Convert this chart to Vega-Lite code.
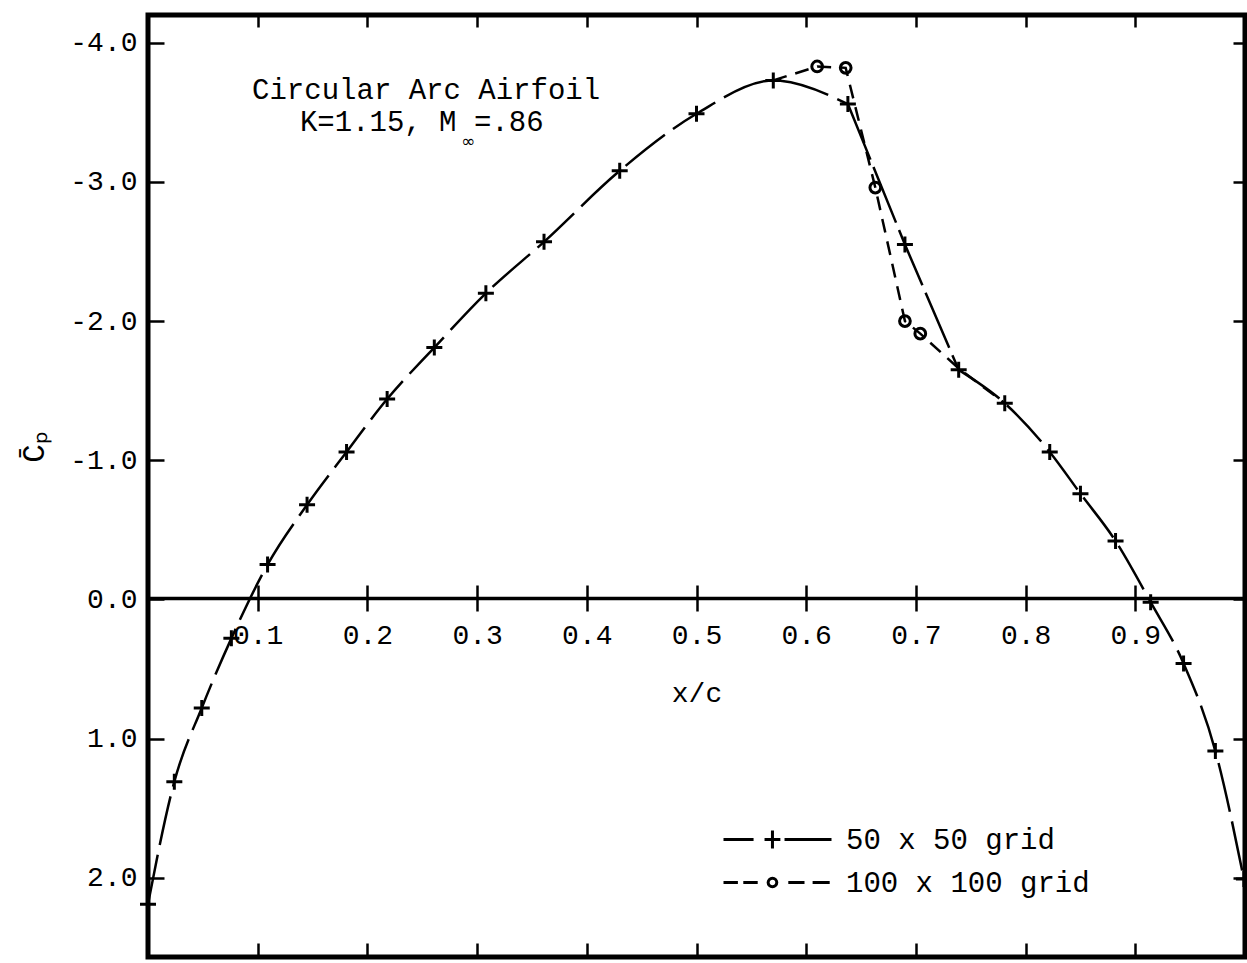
{
  "$schema": "https://vega.github.io/schema/vega-lite/v6.json",
  "width": 1097,
  "height": 942,
  "autosize": {"type": "none"},
  "padding": {"left": 148, "top": 15, "right": 2, "bottom": 6},
  "background": "white",
  "config": {
    "view": {"stroke": "black", "strokeWidth": 5},
    "font": "Liberation Mono",
    "axis": {
      "labelFont": "Liberation Mono",
      "labelFontSize": 28,
      "labelColor": "black",
      "titleFont": "Liberation Mono",
      "titleFontSize": 28,
      "titleFontWeight": "normal",
      "titleColor": "black",
      "tickColor": "black",
      "domainColor": "black",
      "grid": false,
      "labelOverlap": false,
      "labelFlush": false
    }
  },
  "datasets": {
    "cp": [
      {"grid": "50 x 50 grid", "x": 0.000, "cp": 2.19},
      {"grid": "50 x 50 grid", "x": 0.024, "cp": 1.31},
      {"grid": "50 x 50 grid", "x": 0.049, "cp": 0.78},
      {"grid": "50 x 50 grid", "x": 0.076, "cp": 0.28},
      {"grid": "50 x 50 grid", "x": 0.109, "cp": -0.25},
      {"grid": "50 x 50 grid", "x": 0.145, "cp": -0.68},
      {"grid": "50 x 50 grid", "x": 0.181, "cp": -1.06},
      {"grid": "50 x 50 grid", "x": 0.218, "cp": -1.44},
      {"grid": "50 x 50 grid", "x": 0.261, "cp": -1.81},
      {"grid": "50 x 50 grid", "x": 0.308, "cp": -2.20},
      {"grid": "50 x 50 grid", "x": 0.361, "cp": -2.57},
      {"grid": "50 x 50 grid", "x": 0.430, "cp": -3.08},
      {"grid": "50 x 50 grid", "x": 0.500, "cp": -3.49},
      {"grid": "50 x 50 grid", "x": 0.570, "cp": -3.73},
      {"grid": "50 x 50 grid", "x": 0.638, "cp": -3.56},
      {"grid": "50 x 50 grid", "x": 0.690, "cp": -2.55},
      {"grid": "50 x 50 grid", "x": 0.739, "cp": -1.65},
      {"grid": "50 x 50 grid", "x": 0.781, "cp": -1.41},
      {"grid": "50 x 50 grid", "x": 0.822, "cp": -1.06},
      {"grid": "50 x 50 grid", "x": 0.850, "cp": -0.76},
      {"grid": "50 x 50 grid", "x": 0.882, "cp": -0.42},
      {"grid": "50 x 50 grid", "x": 0.914, "cp": 0.02},
      {"grid": "50 x 50 grid", "x": 0.944, "cp": 0.46},
      {"grid": "50 x 50 grid", "x": 0.973, "cp": 1.09},
      {"grid": "50 x 50 grid", "x": 0.999, "cp": 2.01},
      {"grid": "100 x 100 grid", "x": 0.570, "cp": -3.73},
      {"grid": "100 x 100 grid", "x": 0.610, "cp": -3.83},
      {"grid": "100 x 100 grid", "x": 0.636, "cp": -3.82},
      {"grid": "100 x 100 grid", "x": 0.663, "cp": -2.96},
      {"grid": "100 x 100 grid", "x": 0.690, "cp": -2.00},
      {"grid": "100 x 100 grid", "x": 0.704, "cp": -1.91},
      {"grid": "100 x 100 grid", "x": 0.739, "cp": -1.66},
      {"grid": "100 x 100 grid", "x": 0.781, "cp": -1.41}
    ],
    "notes": [
      {"x": 0.2535, "cp": -3.66, "label": "Circular Arc Airfoil"},
      {"x": 0.2495, "cp": -3.43, "label": "K=1.15, M =.86"}
    ],
    "sub": [
      {"x": 0.292, "cp": -3.29, "label": "∞"}
    ]
  },
  "resolve": {"axis": {"x": "independent", "y": "independent"}},
  "layer": [
    {
      "data": {"name": "cp"},
      "transform": [{"filter": "datum.grid === '50 x 50 grid' && datum.x <= 0.64"}],
      "mark": {"type": "line", "interpolate": "monotone", "color": "black", "strokeWidth": 2.5, "strokeDash": [50, 10]},
      "encoding": {
        "x": {"field": "x", "type": "quantitative",
          "scale": {"domain": [0, 1], "nice": false, "zero": false},
          "axis": {"orient": "bottom", "offset": -359, "values": [0.1,0.2,0.3,0.4,0.5,0.6,0.7,0.8,0.9],
            "format": ".1f", "tickSize": 13, "tickWidth": 2.5, "domainWidth": 3.5, "labelPadding": 10,
            "title": "x/c", "titlePadding": 30}},
        "y": {"field": "cp", "type": "quantitative",
          "scale": {"domain": [-4.2, 2.57], "reverse": true, "nice": false, "zero": false},
          "axis": {"orient": "left", "values": [-4,-3,-2,-1,0,1,2], "tickSize": 0, "domain": false, "labelPadding": 11,
            "labelExpr": "datum.value < 0 ? '-' + format(-datum.value, '.1f') : format(datum.value, '.1f')",
            "title": "C\u0304\u209a", "titleFontSize": 31, "titleAngle": 270, "titleX": -114, "titleY": 432, "titleAlign": "center", "titleBaseline": "middle"}}
      }
    },
    {
      "data": {"name": "cp"},
      "transform": [{"filter": "datum.grid === '50 x 50 grid' && datum.x >= 0.63 && datum.x <= 0.75"}],
      "mark": {"type": "line", "interpolate": "linear", "color": "black", "strokeWidth": 2.5, "strokeDash": [60, 8]},
      "encoding": {
        "x": {"field": "x", "type": "quantitative", "axis": null},
        "y": {"field": "cp", "type": "quantitative", "axis": null}
      }
    },
    {
      "data": {"name": "cp"},
      "transform": [{"filter": "datum.grid === '50 x 50 grid' && datum.x >= 0.73"}],
      "mark": {"type": "line", "interpolate": "monotone", "color": "black", "strokeWidth": 2.5, "strokeDash": [50, 10]},
      "encoding": {
        "x": {"field": "x", "type": "quantitative", "axis": null},
        "y": {"field": "cp", "type": "quantitative", "axis": null}
      }
    },
    {
      "data": {"name": "cp"},
      "transform": [{"filter": "datum.grid === '100 x 100 grid'"}],
      "mark": {"type": "line", "interpolate": "linear", "color": "black", "strokeWidth": 2.5, "strokeDash": [14, 9]},
      "encoding": {
        "x": {"field": "x", "type": "quantitative",
          "axis": {"orient": "top", "offset": -583, "values": [0.1,0.2,0.3,0.4,0.5,0.6,0.7,0.8,0.9],
            "tickSize": 13, "tickWidth": 2.5, "labels": false, "domain": false, "title": null}},
        "y": {"field": "cp", "type": "quantitative",
          "axis": {"orient": "right", "offset": -1097, "values": [-4,-3,-2,-1,0,1,2],
            "tickSize": 16, "tickWidth": 2.5, "labels": false, "domain": false, "title": null}}
      }
    },
    {
      "data": {"name": "cp"},
      "transform": [{"filter": "datum.grid === '50 x 50 grid'"}],
      "mark": {"type": "point", "shape": "M-1,0H1M0,-1V1", "size": 256, "filled": false, "color": "black", "strokeWidth": 3, "opacity": 1},
      "encoding": {
        "x": {"field": "x", "type": "quantitative",
          "axis": {"orient": "bottom", "offset": -942, "values": [0.1,0.2,0.3,0.4,0.5,0.6,0.7,0.8,0.9],
            "tickSize": 12, "tickWidth": 2.5, "labels": false, "domain": false, "title": null}},
        "y": {"field": "cp", "type": "quantitative",
          "axis": {"orient": "left", "offset": -1097, "values": [-4,-3,-2,-1,0,1,2],
            "tickSize": 12, "tickWidth": 2.5, "labels": false, "domain": false, "title": null}}
      }
    },
    {
      "data": {"name": "cp"},
      "transform": [{"filter": "datum.grid === '100 x 100 grid' && datum.x > 0.6 && datum.x < 0.72"}],
      "mark": {"type": "point", "shape": "circle", "size": 115, "filled": false, "color": "black", "strokeWidth": 3, "opacity": 1},
      "encoding": {
        "x": {"field": "x", "type": "quantitative",
          "axis": {"orient": "top", "offset": -942, "values": [0.1,0.2,0.3,0.4,0.5,0.6,0.7,0.8,0.9],
            "tickSize": 14, "tickWidth": 2.5, "labels": false, "domain": false, "title": null}},
        "y": {"field": "cp", "type": "quantitative", "axis": null}
      }
    },
    {
      "data": {"name": "cp"},
      "mark": {"type": "point", "filled": false, "color": "black", "size": 1296, "opacity": 0, "strokeWidth": 3},
      "encoding": {
        "x": {"field": "x", "type": "quantitative", "axis": null},
        "y": {"field": "cp", "type": "quantitative", "axis": null},
        "shape": {"field": "grid", "type": "nominal",
          "scale": {"domain": ["50 x 50 grid", "100 x 100 grid"],
            "range": [
              "M-1,0H0.67M1.28,0H2.16M1.72,-0.5V0.5M2.39,0H5",
              "M-1,0H-0.2M0.1,0H0.9M1.96,0A0.24,0.24 0 1,1 1.48,0A0.24,0.24 0 1,1 1.96,0ZM2.6,0H3.5M3.95,0H4.9"
            ]},
          "legend": {"orient": "none", "legendX": 574, "legendY": 805, "title": null,
            "symbolSize": 1296, "symbolStrokeColor": "black", "symbolStrokeWidth": 3,
            "symbolFillColor": "transparent", "symbolOpacity": 1,
            "labelFont": "Liberation Mono", "labelFontSize": 29, "labelColor": "black",
            "labelOffset": 85, "labelLimit": 500, "rowPadding": 8, "padding": 0}}
      }
    },
    {
      "data": {"name": "notes"},
      "mark": {"type": "text", "font": "Liberation Mono", "fontSize": 29, "color": "black", "align": "center", "baseline": "middle"},
      "encoding": {
        "x": {"field": "x", "type": "quantitative", "axis": null},
        "y": {"field": "cp", "type": "quantitative", "axis": null},
        "text": {"field": "label"}
      }
    },
    {
      "data": {"name": "sub"},
      "mark": {"type": "text", "font": "DejaVu Sans", "fontSize": 17, "color": "black", "align": "center", "baseline": "middle"},
      "encoding": {
        "x": {"field": "x", "type": "quantitative", "axis": null},
        "y": {"field": "cp", "type": "quantitative", "axis": null},
        "text": {"field": "label"}
      }
    }
  ]
}
